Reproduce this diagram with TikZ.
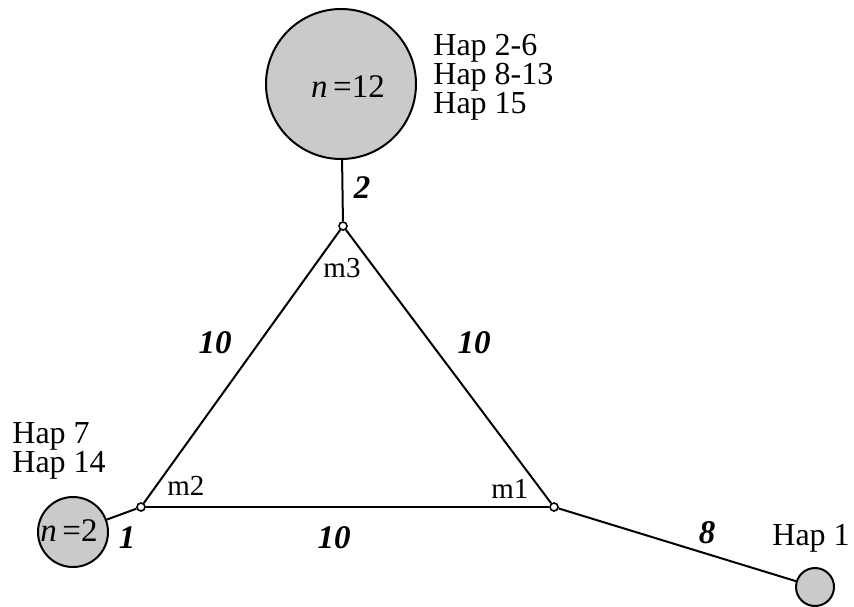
\documentclass[tikz,border=0pt]{standalone}
\usepackage{fontspec}
\setmainfont{Liberation Serif}
\definecolor{hapfill}{RGB}{202,202,202}
\begin{document}
\begin{tikzpicture}[x=0.5pt,y=-0.5pt,
  hap/.style={circle,draw,line width=1pt,fill=hapfill,inner sep=0pt,font=\fontsize{16.5}{16.5}\selectfont},
  med/.style={circle,draw,line width=0.8pt,fill=white,inner sep=0pt,minimum size=4pt},
  edge/.style={line width=1pt},
  lab/.style={font=\fontsize{16}{16}\selectfont,inner sep=0pt},
  mlab/.style={font=\fontsize{14.5}{14.5}\selectfont,inner sep=0pt},
  num/.style={font=\fontsize{16.5}{16.5}\selectfont\bfseries\itshape,inner sep=0pt}]
\useasboundingbox (0,0) rectangle (854,606);
% haplotype circles
\node[hap,minimum size=75pt] (big) at (341,84) {};
\node[hap,minimum size=35pt] (small) at (73,532) {};
\node[hap,minimum size=19pt] (hap1) at (815,587) {};
% median vectors
\node[med] (m3) at (343,226) {};
\node[med] (m2) at (141,507) {};
\node[med] (m1) at (554,507) {};
% connectors
\draw[edge] (big) -- (m3);
\draw[edge] (m3) -- (m2);
\draw[edge] (m3) -- (m1);
\draw[edge] (m2) -- (m1);
\draw[edge] (small) -- (m2);
\draw[edge] (m1) -- (hap1);
% texts in circles
\node[hap,draw=none,fill=none,anchor=base] (tbig) at (348,97) {\textit{n}\,=12};
\node[hap,draw=none,fill=none,anchor=base] (tsmall) at (69,541) {\textit{n}\,=2};
% haplotype labels
\node[lab,anchor=base west] (h26) at (433,55) {Hap 2-6};
\node[lab,anchor=base west] (h813) at (433,84) {Hap 8-13};
\node[lab,anchor=base west] (h15) at (433,113) {Hap 15};
\node[lab,anchor=base west] (h7) at (12,443) {Hap 7};
\node[lab,anchor=base west] (h14) at (12,472) {Hap 14};
\node[lab,anchor=base west] (h1) at (772,545) {Hap 1};
% median labels
\node[mlab,anchor=base] (l3) at (342,277) {m3};
\node[mlab,anchor=base west] (l2) at (167,495) {m2};
\node[mlab,anchor=base west] (l1) at (491,498) {m1};
% mutation counts
\node[num,anchor=base] (n2) at (362,198) {2};
\node[num,anchor=base] (n10a) at (215,353) {10};
\node[num,anchor=base] (n10b) at (474,353) {10};
\node[num,anchor=base] (n10c) at (334,548) {10};
\node[num,anchor=base] (n1) at (127,548) {1};
\node[num,anchor=base] (n8) at (707,543) {8};
\end{tikzpicture}
\end{document}
